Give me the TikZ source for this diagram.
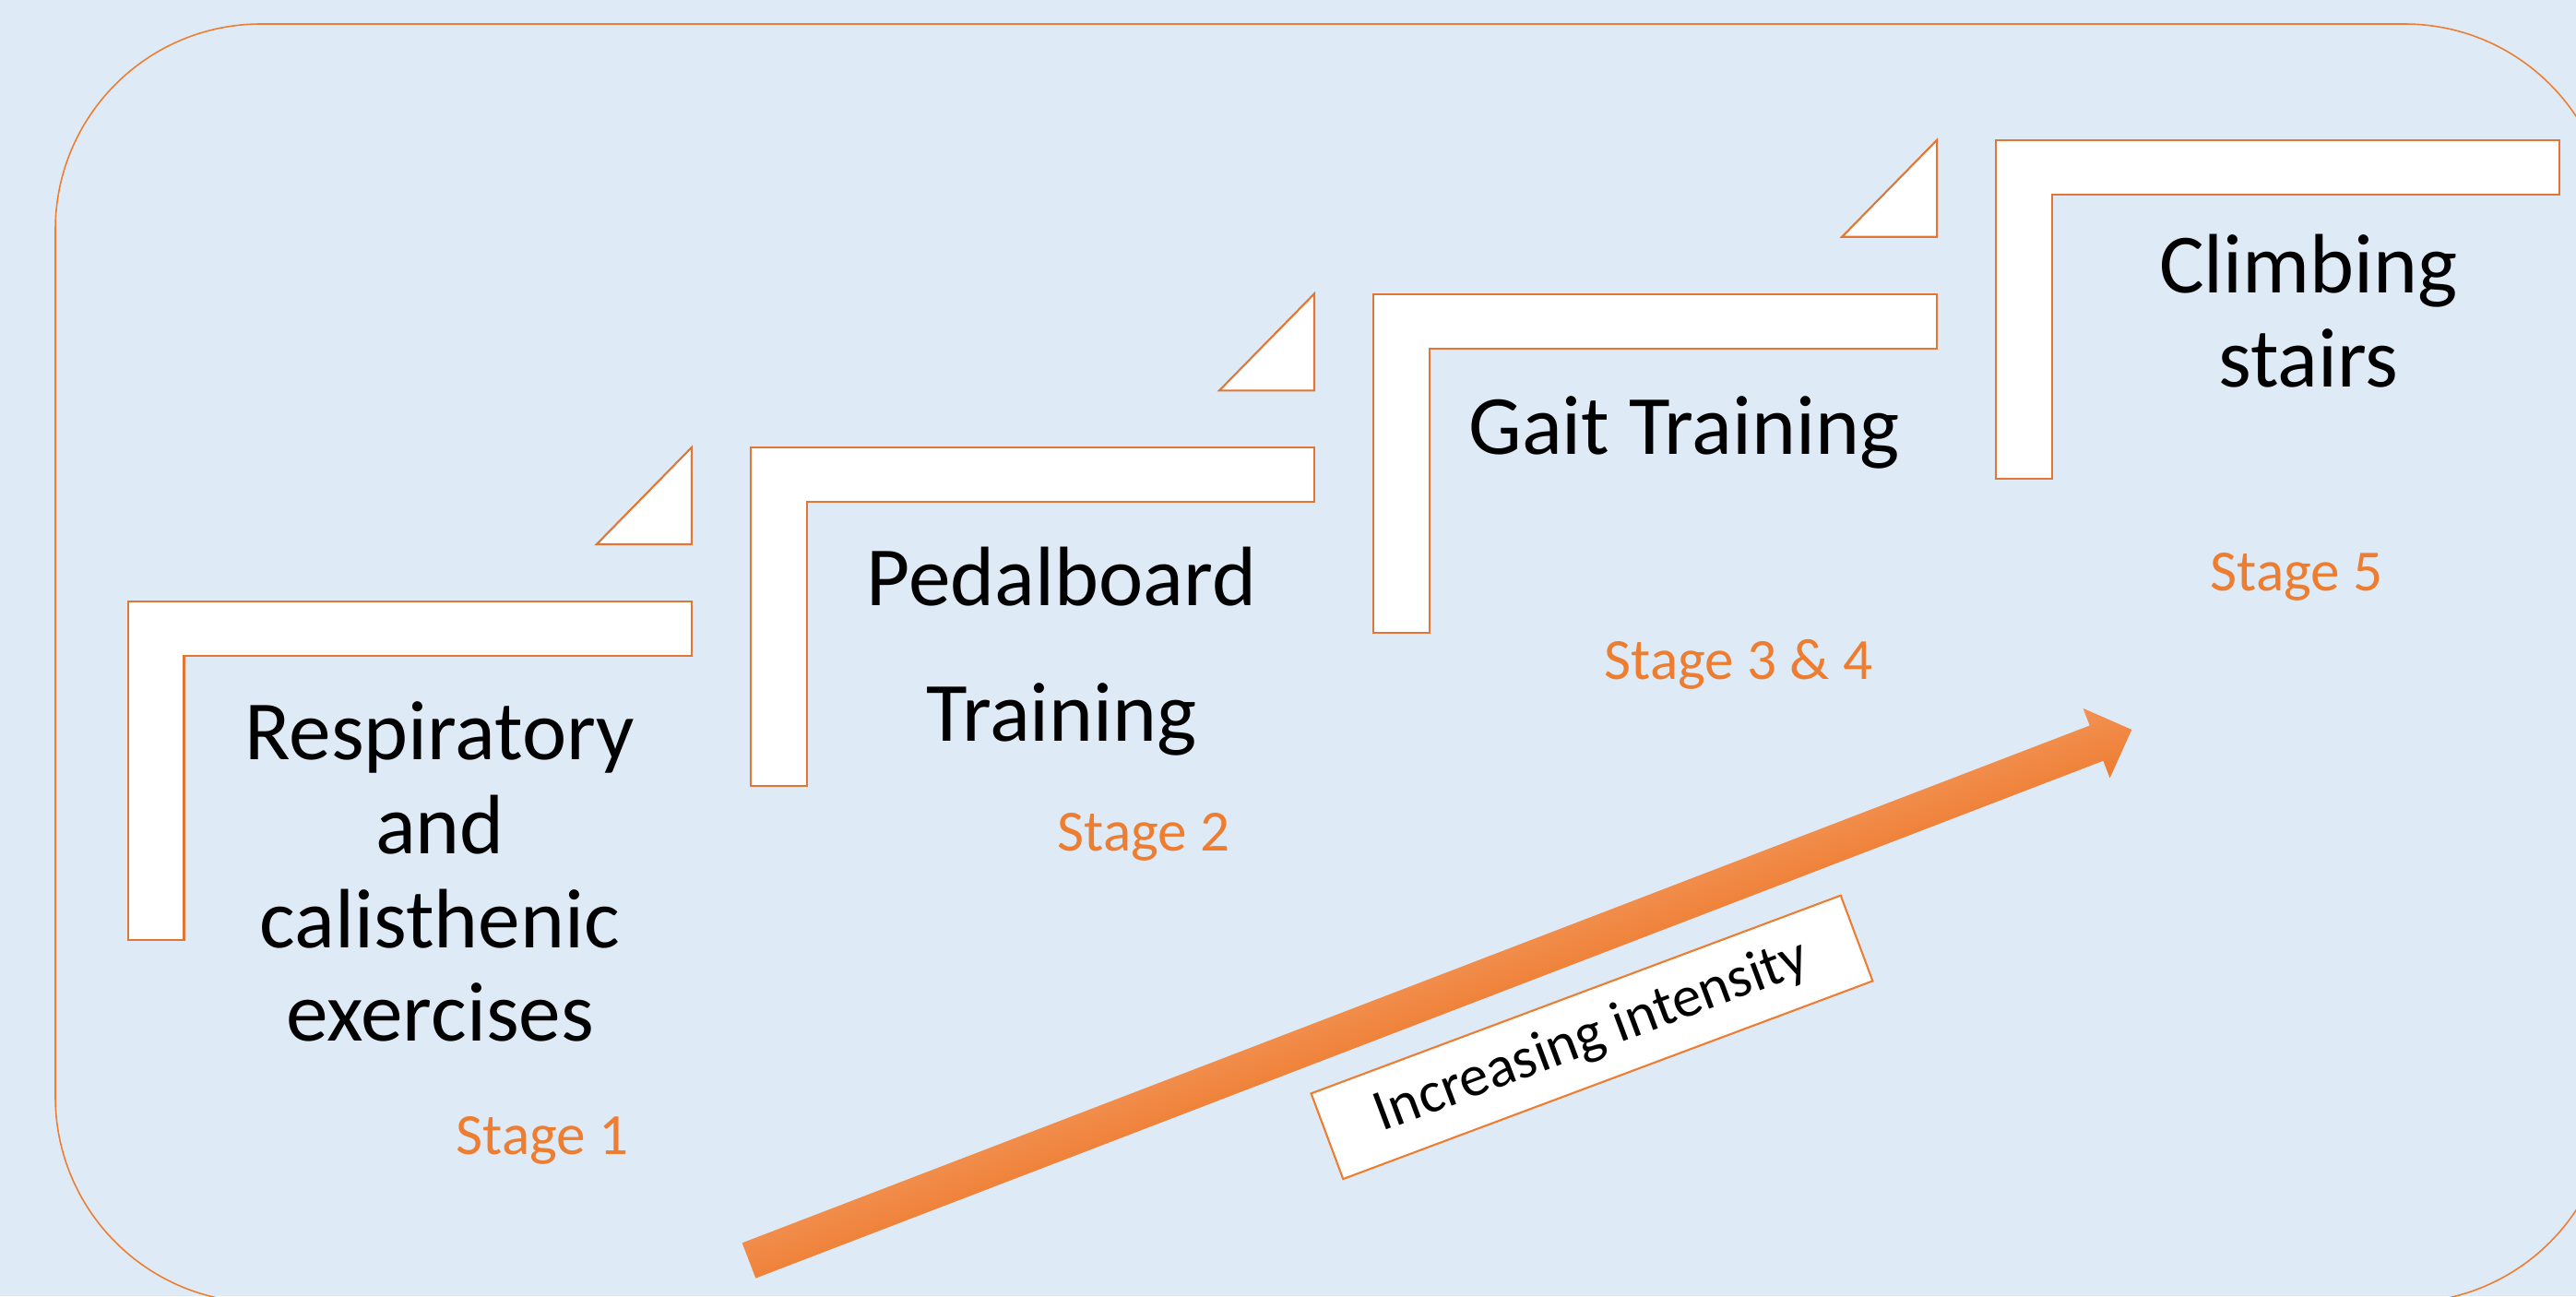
\documentclass[tikz,border=0pt]{standalone}
\usepackage{fontspec}
\setmainfont{Carlito}
\usetikzlibrary{positioning}
\definecolor{stBg}     {RGB}{222,235,247}
\definecolor{stOrange} {RGB}{237,125, 49}
\definecolor{stOrangeL}{RGB}{243,146, 84}
\definecolor{stEdge}   {RGB}{226,118, 52}

\begin{document}
\begin{tikzpicture}[
  big/.style   ={font=\fontsize{26}{29}\selectfont,align=center,text=black},
  stage/.style ={font=\fontsize{18}{21}\selectfont,text=stOrange},
  stair/.style ={draw=stEdge,fill=white,line width=0.6pt},
  frame/.style ={draw=stOrange,line width=0.45pt,rounded corners=2.23cm},
  tag/.style   ={draw=stOrange,fill=white,line width=0.6pt,
                 minimum width=6.13cm,minimum height=0.99cm,
                 font=\fontsize{18}{21}\selectfont}
]
\path[use as bounding box,fill=stBg] (0,0) rectangle (27.93,14.05);
\draw[frame] (0.60,-0.07) rectangle (28.30,13.79);

% the four steps and the small wedges between them
\foreach \k in {0,...,3}
  \draw[stair,shift={({1.389+6.751*\k},{7.53+1.666*\k})}]
    (0,0) -- (6.11,0) -- (6.11,-0.59) -- (0.606,-0.59)
    -- (0.606,-3.67) -- (0,-3.67) -- cycle;
\foreach \k in {0,1,2}
  \draw[stair,shift={({1.389+6.751*\k},{7.53+1.666*\k})}]
    (5.08,0.62) -- (6.11,0.62) -- (6.11,1.67) -- cycle;

\node[big] (resp)  at (4.77,4.60)   {Respiratory\\and\\calisthenic\\exercises};
\node[big] (pedal) at (11.51,6.99)  {Pedalboard\\[13pt]Training};
\node[big] (gait)  at (18.26,9.36)  {Gait Training};
\node[big] (climb) at (25.03,10.675){Climbing\\stairs};

\node[stage] (s1)  at (5.88,1.69)  {Stage 1};
\node[stage] (s2)  at (12.40,4.98) {Stage 2};
\node[stage] (s34) at (18.85,6.85) {Stage 3 \& 4};
\node[stage] (s5)  at (24.90,7.80) {Stage 5};

% intensity arrow
\begin{scope}[transform canvas={shift={(8.12,0.385)},rotate=21}]
  \shade[top color=stOrangeL,bottom color=stOrange]
    (0,-0.205) -- (15.65,-0.205) -- (15.65,-0.405) -- (16.06,0)
    -- (15.65,0.405) -- (15.65,0.205) -- (0,0.205) -- cycle;
\end{scope}
\node[tag,rotate=20.5] (incr) at (17.26,2.806) {Increasing intensity};
\end{tikzpicture}
\end{document}
